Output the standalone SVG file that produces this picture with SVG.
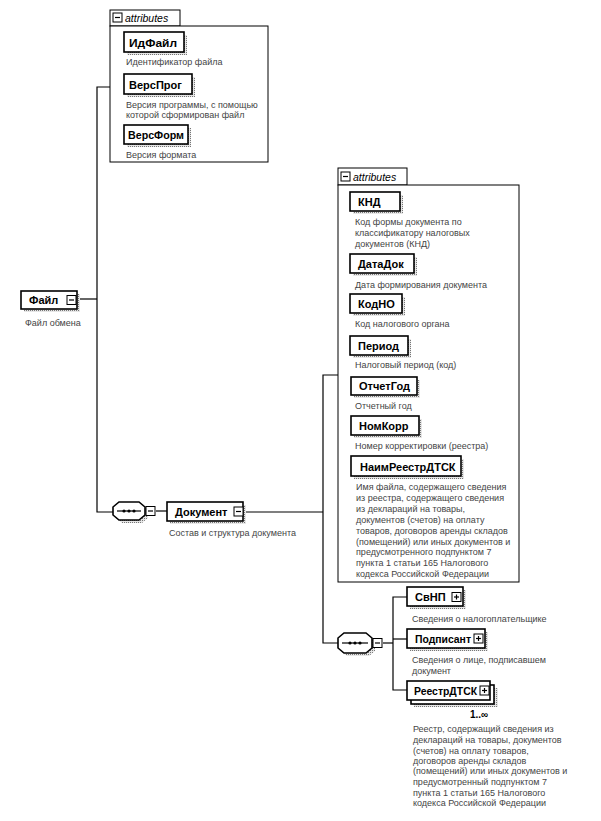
<svg xmlns="http://www.w3.org/2000/svg" width="601" height="821" viewBox="0 0 601 821">
<defs>
<pattern id="dots" width="2" height="2" patternUnits="userSpaceOnUse"><rect width="2" height="2" fill="#e6e6e6"/><rect width="1" height="1" fill="#777"/></pattern>
</defs>
<style>
.bx{fill:#fff;stroke:#000;stroke-width:1.6}
.sh{fill:url(#dots)}
.cont{fill:#fff;stroke:#000;stroke-width:1}
.lbl{font-family:"Liberation Sans",Arial,sans-serif;font-weight:bold;font-size:11px;fill:#000}
.ds{font-family:"Liberation Sans",Arial,sans-serif;font-size:9px;fill:#444}
.tab{font-family:"Liberation Sans",Arial,sans-serif;font-style:italic;font-size:10.5px;fill:#000}
.tg{fill:#fff;stroke:#000;stroke-width:1}
.tl{stroke:#000;stroke-width:1.2;fill:none}
.cn{stroke:#000;stroke-width:1.2;fill:none}
.mul{font-family:"Liberation Sans",Arial,sans-serif;font-weight:bold;font-size:10px;fill:#000}
</style>
<rect width="601" height="821" fill="#fff"/>
<g id="connectors">
<polyline class="cn" points="110,87 97,87 97,512 113,512"/>
<line class="cn" x1="77" y1="299" x2="97" y2="299"/>
<line class="cn" x1="156" y1="511" x2="167" y2="511"/>
<line class="cn" x1="243" y1="512" x2="323" y2="512"/>
<polyline class="cn" points="338,375 323,375 323,643 338,643"/>
<line class="cn" x1="383" y1="643" x2="393" y2="643"/>
<polyline class="cn" points="407,597 393,597 393,690 407,690"/>
<line class="cn" x1="393" y1="639" x2="407" y2="639"/>
</g>
<g id="attributes1">
<rect class="cont" x="110" y="10" width="70" height="16"/>
<rect class="tg" x="113" y="13" width="9" height="9"/><line class="tl" x1="115" y1="17.5" x2="120" y2="17.5"/>
<text class="tab" x="125" y="22">attributes</text>
<rect class="cont" x="110" y="26" width="158" height="136"/>
</g>
<g id="n-IdFajl">
<rect class="sh" x="127" y="35" width="60" height="20"/>
<rect class="bx" x="124" y="32" width="60" height="20"/>
<text class="lbl" x="129" y="46.5" textLength="48" lengthAdjust="spacingAndGlyphs">ИдФайл</text>
<text class="ds" x="126" y="65">Идентификатор файла</text>
</g>
<g id="n-VersProg">
<rect class="sh" x="127" y="77" width="68" height="20"/>
<rect class="bx" x="124" y="74" width="68" height="20"/>
<text class="lbl" x="129" y="88.5">ВерсПрог</text>
<text class="ds" x="126" y="108">Версия программы, с помощью</text>
<text class="ds" x="126" y="118">которой сформирован файл</text>
</g>
<g id="n-VersForm">
<rect class="sh" x="127" y="128" width="64" height="19"/>
<rect class="bx" x="124" y="125" width="64" height="19"/>
<text class="lbl" x="128" y="138.5" textLength="56" lengthAdjust="spacingAndGlyphs">ВерсФорм</text>
<text class="ds" x="126" y="158">Версия формата</text>
</g>
<g id="n-Fajl">
<rect class="sh" x="24" y="294" width="56" height="18"/>
<rect class="bx" x="21" y="291" width="56" height="18"/>
<text class="lbl" x="29" y="304">Файл</text>
<rect class="tg" x="67" y="295.5" width="9" height="9"/><line class="tl" x1="69" y1="300" x2="74" y2="300"/>
<text class="ds" x="25" y="326">Файл обмена</text>
</g>
<g id="seq1">
<polygon class="sh" points="122,505 142,505 148,510 148,518 142,523 122,523 116,518 116,510"/>
<polygon class="bx" points="119,502 139,502 145,507 145,515 139,520 119,520 113,515 113,507"/>
<line class="tl" x1="117" y1="511" x2="141" y2="511"/>
<circle cx="124" cy="511" r="1.6"/><circle cx="129" cy="511" r="1.6"/><circle cx="134" cy="511" r="1.6"/>
<rect class="tg" x="146" y="506.5" width="9" height="9"/><line class="tl" x1="148" y1="511" x2="153" y2="511"/>
</g>
<g id="n-Dokument">
<rect class="sh" x="170" y="505" width="76" height="19"/>
<rect class="bx" x="167" y="502" width="76" height="19"/>
<text class="lbl" x="175" y="515.5">Документ</text>
<rect class="tg" x="234" y="507" width="9" height="9"/><line class="tl" x1="236" y1="511.5" x2="241" y2="511.5"/>
<text class="ds" x="169" y="536">Состав и структура документа</text>
</g>
<g id="attributes2">
<rect class="cont" x="338" y="168" width="69" height="17"/>
<rect class="tg" x="341" y="172" width="9" height="9"/><line class="tl" x1="343" y1="176.5" x2="348" y2="176.5"/>
<text class="tab" x="353" y="181">attributes</text>
<rect class="cont" x="338" y="185" width="181" height="397"/>
</g>
<g id="n-KND">
<rect class="sh" x="353" y="195" width="50" height="19"/>
<rect class="bx" x="350" y="192" width="50" height="19"/>
<text class="lbl" x="358" y="205.5">КНД</text>
<text class="ds" x="355" y="225">Код формы документа по</text>
<text class="ds" x="355" y="236">классификатору налоговых</text>
<text class="ds" x="355" y="247">документов (КНД)</text>
</g>
<g id="n-DataDok">
<rect class="sh" x="353" y="257" width="64" height="19"/>
<rect class="bx" x="350" y="254" width="64" height="19"/>
<text class="lbl" x="358" y="267.5">ДатаДок</text>
<text class="ds" x="355" y="288">Дата формирования документа</text>
</g>
<g id="n-KodNO">
<rect class="sh" x="353" y="297" width="52" height="19"/>
<rect class="bx" x="350" y="294" width="52" height="19"/>
<text class="lbl" x="358" y="307.5">КодНО</text>
<text class="ds" x="355" y="327">Код налогового органа</text>
</g>
<g id="n-Period">
<rect class="sh" x="353" y="339" width="58" height="19"/>
<rect class="bx" x="350" y="336" width="58" height="19"/>
<text class="lbl" x="358" y="349.5">Период</text>
<text class="ds" x="355" y="368">Налоговый период (код)</text>
</g>
<g id="n-OtchetGod">
<rect class="sh" x="354" y="380" width="66" height="18"/>
<rect class="bx" x="351" y="377" width="66" height="18"/>
<text class="lbl" x="359" y="390">ОтчетГод</text>
<text class="ds" x="355" y="409">Отчетный год</text>
</g>
<g id="n-NomKorr">
<rect class="sh" x="354" y="419" width="68" height="19"/>
<rect class="bx" x="351" y="416" width="68" height="19"/>
<text class="lbl" x="359" y="429.5">НомКорр</text>
<text class="ds" x="355" y="449">Номер корректировки (реестра)</text>
</g>
<g id="n-NaimReestrDTSK">
<rect class="sh" x="354" y="459" width="110" height="20"/>
<rect class="bx" x="351" y="456" width="110" height="20"/>
<text class="lbl" x="360" y="470.5">НаимРеестрДТСК</text>
<text class="ds" x="356" y="490">Имя файла, содержащего сведения</text>
<text class="ds" x="356" y="501">из реестра, содержащего сведения</text>
<text class="ds" x="356" y="512">из деклараций на товары,</text>
<text class="ds" x="356" y="523">документов (счетов) на оплату</text>
<text class="ds" x="356" y="534">товаров, договоров аренды складов</text>
<text class="ds" x="356" y="545">(помещений) или иных документов и</text>
<text class="ds" x="356" y="555">предусмотренного подпунктом 7</text>
<text class="ds" x="356" y="566">пункта 1 статьи 165 Налогового</text>
<text class="ds" x="356" y="577">кодекса Российской Федерации</text>
</g>
<g id="seq2">
<polygon class="sh" points="347,636 369,636 375,641 375,651 369,656 347,656 341,651 341,641"/>
<polygon class="bx" points="344,633 366,633 372,638 372,648 366,653 344,653 338,648 338,638"/>
<line class="tl" x1="342" y1="643" x2="368" y2="643"/>
<circle cx="350" cy="643" r="1.6"/><circle cx="355" cy="643" r="1.6"/><circle cx="360" cy="643" r="1.6"/>
<rect class="tg" x="373" y="638.5" width="9" height="9"/><line class="tl" x1="375" y1="643" x2="380" y2="643"/>
</g>
<g id="n-SvNP">
<rect class="sh" x="410" y="590" width="56" height="19"/>
<rect class="bx" x="407" y="587" width="56" height="19"/>
<text class="lbl" x="415" y="600.5">СвНП</text>
<rect class="tg" x="452" y="592.5" width="9" height="9"/><line class="tl" x1="454" y1="597" x2="459" y2="597"/><line class="tl" x1="456.5" y1="594.5" x2="456.5" y2="599.5"/>
<text class="ds" x="412" y="622">Сведения о налогоплательщике</text>
</g>
<g id="n-Podpisant">
<rect class="sh" x="410" y="632" width="78" height="19"/>
<rect class="bx" x="407" y="629" width="78" height="19"/>
<text class="lbl" x="415" y="642.5" textLength="56" lengthAdjust="spacingAndGlyphs">Подписант</text>
<rect class="tg" x="474" y="634" width="9" height="9"/><line class="tl" x1="476" y1="638.5" x2="481" y2="638.5"/><line class="tl" x1="478.5" y1="636" x2="478.5" y2="641"/>
<text class="ds" x="412" y="663">Сведения о лице, подписавшем</text>
<text class="ds" x="412" y="674">документ</text>
</g>
<g id="n-ReestrDTSK">
<rect class="sh" x="414" y="688" width="84" height="19"/>
<rect class="bx" x="411" y="685" width="83" height="19"/>
<rect class="bx" x="407" y="681" width="83" height="19"/>
<text class="lbl" x="414" y="694.5" textLength="63" lengthAdjust="spacingAndGlyphs">РеестрДТСК</text>
<rect class="tg" x="480" y="686" width="9" height="9"/><line class="tl" x1="482" y1="690.5" x2="487" y2="690.5"/><line class="tl" x1="484.5" y1="688" x2="484.5" y2="693"/>
<text class="mul" x="479" y="718" text-anchor="middle">1..∞</text>
<text class="ds" x="413" y="732">Реестр, содержащий сведения из</text>
<text class="ds" x="413" y="743">деклараций на товары, документов</text>
<text class="ds" x="413" y="754">(счетов) на оплату товаров,</text>
<text class="ds" x="413" y="764">договоров аренды складов</text>
<text class="ds" x="413" y="774">(помещений) или иных документов и</text>
<text class="ds" x="413" y="785">предусмотренный подпунктом 7</text>
<text class="ds" x="413" y="796">пункта 1 статьи 165 Налогового</text>
<text class="ds" x="413" y="806">кодекса Российской Федерации</text>
</g>
</svg>
